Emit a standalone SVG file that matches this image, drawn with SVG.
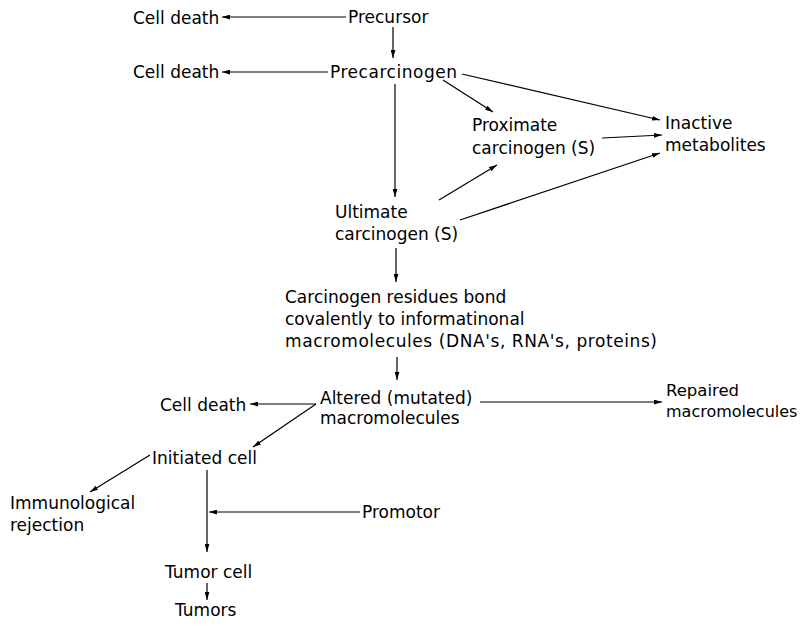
<svg xmlns="http://www.w3.org/2000/svg" width="803" height="629" viewBox="0 0 803 629">
<defs>
<marker id="ah" viewBox="0 0 10 6" refX="10" refY="3" markerWidth="8" markerHeight="5" markerUnits="userSpaceOnUse" orient="auto">
<path d="M0,0 L10,3 L0,6 Z" fill="#000"/>
</marker>
<style>
text{font-family:"DejaVu Sans","Liberation Sans",sans-serif;font-size:17px;fill:#000}
.c line{stroke:#000;stroke-width:1.2;marker-end:url(#ah)}
</style>
</defs>
<rect width="803" height="629" fill="#fff"/>
<g id="celldeath1"><text x="133" y="24">Cell death</text></g>
<g id="precursor"><text x="348" y="23">Precursor</text></g>
<g id="celldeath2"><text x="133" y="78">Cell death</text></g>
<g id="precarcinogen"><text x="330" y="78" textLength="127">Precarcinogen</text></g>
<g id="proximate"><text x="472" y="131">Proximate</text><text x="472" y="154">carcinogen (S)</text></g>
<g id="inactive"><text x="665" y="129">Inactive</text><text x="665" y="151">metabolites</text></g>
<g id="ultimate"><text x="335" y="218">Ultimate</text><text x="335" y="240">carcinogen (S)</text></g>
<g id="residues"><text x="285" y="303">Carcinogen residues bond</text><text x="285" y="325">covalently to informatinonal</text><text x="285" y="347" textLength="372">macromolecules (DNA's, RNA's, proteins)</text></g>
<g id="altered"><text x="320" y="404">Altered (mutated)</text><text x="320" y="424">macromolecules</text></g>
<g id="celldeath3"><text x="160" y="411">Cell death</text></g>
<g id="repaired"><text x="666" y="396" style="font-size:16.5px">Repaired</text><text x="666" y="417" style="font-size:16px">macromolecules</text></g>
<g id="initiated"><text x="152" y="464">Initiated cell</text></g>
<g id="immuno"><text x="10" y="509">Immunological</text><text x="10" y="531">rejection</text></g>
<g id="promotor"><text x="362" y="518">Promotor</text></g>
<g id="tumorcell"><text x="165" y="578">Tumor cell</text></g>
<g id="tumors"><text x="175" y="616">Tumors</text></g>
<g id="connectors" class="c">
<line x1="346" y1="17" x2="222" y2="17"/>
<line x1="393" y1="27" x2="393" y2="58"/>
<line x1="328" y1="72" x2="222" y2="72"/>
<line x1="462" y1="74" x2="660" y2="120"/>
<line x1="443" y1="80" x2="493" y2="112"/>
<line x1="395" y1="84" x2="395" y2="197"/>
<line x1="602" y1="138" x2="662" y2="135"/>
<line x1="439" y1="200" x2="497" y2="165"/>
<line x1="460" y1="220" x2="660" y2="153"/>
<line x1="396" y1="248" x2="396" y2="282"/>
<line x1="397" y1="357" x2="397" y2="380"/>
<line x1="316" y1="404" x2="250" y2="404"/>
<line x1="316" y1="404" x2="253" y2="447"/>
<line x1="480" y1="402" x2="662" y2="402"/>
<line x1="150" y1="455" x2="90" y2="492"/>
<line x1="207" y1="470" x2="207" y2="552"/>
<line x1="360" y1="512" x2="209" y2="512"/>
<line x1="207" y1="583" x2="207" y2="600"/>
</g>
</svg>
